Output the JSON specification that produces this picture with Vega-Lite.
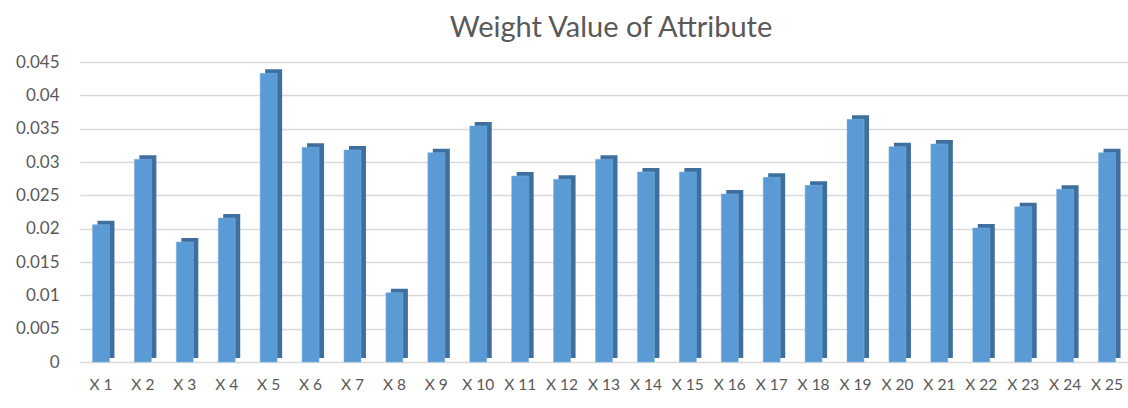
{
  "$schema": "https://vega.github.io/schema/vega-lite/v6.json",
  "autosize": {"type": "none"},
  "width": 1048,
  "height": 300,
  "padding": {"left": 80, "top": 62, "right": 0, "bottom": 46},
  "background": "white",
  "config": {"view": {"stroke": null}, "font": "Lato"},
  "title": {"text": "Weight Value of Attribute", "fontSize": 29, "font": "Lato", "fontWeight": "normal", "color": "#595959", "anchor": "middle", "dx": 7, "offset": 10},
  "data": {"values": [
    {"attr": "X 1", "w": 0.0206},
    {"attr": "X 2", "w": 0.0304},
    {"attr": "X 3", "w": 0.0180},
    {"attr": "X 4", "w": 0.0216},
    {"attr": "X 5", "w": 0.0433},
    {"attr": "X 6", "w": 0.0322},
    {"attr": "X 7", "w": 0.0318},
    {"attr": "X 8", "w": 0.0104},
    {"attr": "X 9", "w": 0.0314},
    {"attr": "X 10", "w": 0.0354},
    {"attr": "X 11", "w": 0.0279},
    {"attr": "X 12", "w": 0.0274},
    {"attr": "X 13", "w": 0.0304},
    {"attr": "X 14", "w": 0.0285},
    {"attr": "X 15", "w": 0.0285},
    {"attr": "X 16", "w": 0.0252},
    {"attr": "X 17", "w": 0.0277},
    {"attr": "X 18", "w": 0.0265},
    {"attr": "X 19", "w": 0.0364},
    {"attr": "X 20", "w": 0.0323},
    {"attr": "X 21", "w": 0.0327},
    {"attr": "X 22", "w": 0.0201},
    {"attr": "X 23", "w": 0.0233},
    {"attr": "X 24", "w": 0.0259},
    {"attr": "X 25", "w": 0.0314}
  ]},
  "encoding": {
    "x": {"field": "attr", "type": "nominal", "sort": null, "scale": {"paddingInner": 0.5, "paddingOuter": 0.25},
      "axis": {"title": null, "labelAngle": 0, "labelFontSize": 15.5, "labelColor": "#595959", "labelFont": "Lato", "ticks": false, "domain": false, "labelPadding": 15}},
    "y": {"field": "w", "type": "quantitative", "scale": {"domain": [0, 0.045]},
      "axis": {"title": null, "values": [0, 0.005, 0.01, 0.015, 0.02, 0.025, 0.03, 0.035, 0.04, 0.045], "format": "~g", "labelFontSize": 17, "labelColor": "#595959", "labelFont": "Lato", "ticks": false, "domain": false, "labelPadding": 21, "gridColor": "#d9d9d9", "gridWidth": 1.5}}
  },
  "layer": [
    {"mark": {"type": "bar", "width": 17, "color": "#3f6f9e", "xOffset": 5, "yOffset": -4}},
    {"mark": {"type": "bar", "width": 17, "color": "#5b9bd5", "stroke": "#7fb2e0", "strokeWidth": 0.5}}
  ]
}
